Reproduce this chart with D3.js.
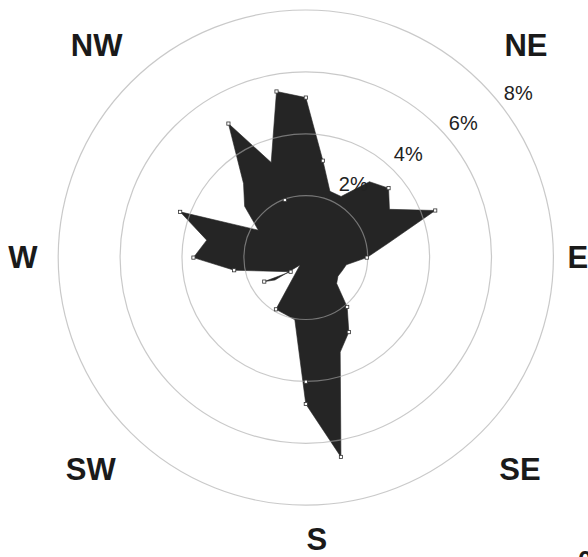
<!DOCTYPE html>
<html><head><meta charset="utf-8">
<script src="https://cdn.jsdelivr.net/npm/d3@7"></script>
<style>html,body{margin:0;padding:0;background:#fff;overflow:hidden}</style>
</head><body>
<svg id="chart" width="588" height="557"></svg>
<script>
// wind direction (degrees clockwise from north) and frequency (%)
const windDir = [0,10,20,30,40,50,60,70,80,90,100,110,120,130,140,150,160,170,180,190,200,210,218,234,240,227,260,270,280,290,300,310,320,330,340,350];
const windPct = [5.17,3.18,2.28,2.28,3.20,3.49,3.12,4.45,2.71,1.97,1.33,1.25,1.20,1.30,2.08,2.78,3.25,6.54,4.73,2.04,1.95,1.93,0.30,1.23,1.55,0.67,2.35,3.63,3.25,4.32,1.77,2.58,3.13,5.00,3.27,5.45];
const markedDir = [0,10,50,70,90,140,150,170,180,210,240,227,260,270,290,330,350];
const extraMarkDir = [340,180];
const extraMarkPct = [1.98,4.01];
const ringTicks = [2,4,6,8];
const ringLabels = ["2%","4%","6%","8%"];
const compassLabels = ["NE","E","SE","S","SW","W","NW"];
const compassAngles = [45,90,135,180,225,270,315];

// layout (styling only)
const W = 588, H = 557;
const cx = 305.8, cy = 257.6;
const labelNudge = {NE:[8,0], E:[-11,0], SE:[2,0], S:[11,-1], SW:[-3,0], W:[0,0], NW:[3,0]};

const svg = d3.select("#chart");
const r = d3.scaleLinear().domain([0, 8]).range([0, 247.6]);
const rad = d => d * Math.PI / 180;

const g = svg.append("g").attr("transform", `translate(${cx},${cy})`);

const pts = windDir.map((d, i) => ({dir: d, pct: windPct[i]}));
const line = d3.lineRadial()
  .angle(d => rad(d.dir))
  .radius(d => r(d.pct))
  .curve(d3.curveLinearClosed);

g.append("path").datum(pts)
  .attr("d", line)
  .attr("fill", "#252525")
  .attr("stroke", "#252525")
  .attr("stroke-width", 0.6)
  .attr("stroke-linejoin", "miter");

// rings on top
g.selectAll("circle.ring").data(ringTicks).join("circle")
  .attr("class", "ring")
  .attr("r", d => r(d))
  .attr("fill", "none")
  .attr("stroke", "#a8a8a8")
  .attr("stroke-opacity", 0.62)
  .attr("stroke-width", 1.2);

// markers
const polar = (dir, pct) => [r(pct) * Math.sin(rad(dir)), -r(pct) * Math.cos(rad(dir))];
const marks = pts.filter(p => markedDir.includes(p.dir))
  .concat(extraMarkDir.map((d, i) => ({dir: d, pct: extraMarkPct[i]})));
g.selectAll("rect.mk").data(marks).join("rect")
  .attr("class", "mk")
  .attr("x", d => polar(d.dir, d.pct)[0] - 1.6)
  .attr("y", d => polar(d.dir, d.pct)[1] - 1.6)
  .attr("width", 3.2).attr("height", 3.2)
  .attr("fill", "#fff")
  .attr("stroke", "#333")
  .attr("stroke-width", 0.8);

// ring labels
const labA = rad(61.3);
g.selectAll("text.rl").data(ringTicks).join("text")
  .attr("class", "rl")
  .attr("x", d => -7.5 + 1.013 * r(d) * Math.sin(labA))
  .attr("y", d => -43.8 - 1.013 * r(d) * Math.cos(labA))
  .attr("text-anchor", "middle")
  .attr("dominant-baseline", "central")
  .attr("font-family", "Liberation Sans, Arial, sans-serif")
  .attr("font-size", 20)
  .attr("fill", "#222")
  .text((d, i) => ringLabels[i]);

// compass labels
const labelR = a => 283 + 17 * Math.abs(Math.sin(2 * rad(a)));
g.selectAll("text.cl").data(compassLabels).join("text")
  .attr("class", "cl")
  .attr("x", (d, i) => labelR(compassAngles[i]) * Math.sin(rad(compassAngles[i])) + labelNudge[d][0])
  .attr("y", (d, i) => -labelR(compassAngles[i]) * Math.cos(rad(compassAngles[i])) + labelNudge[d][1])
  .attr("text-anchor", "middle")
  .attr("dominant-baseline", "central")
  .attr("font-family", "Liberation Sans, Arial, sans-serif")
  .attr("font-weight", "bold")
  .attr("font-size", 31)
  .attr("fill", "#1a1a1a")
  .text(d => d);

// clipped fragment at bottom right (also cut off in the reference)
svg.append("text")
  .attr("x", 578).attr("y", 569)
  .attr("font-family", "Liberation Sans, Arial, sans-serif")
  .attr("font-weight", "bold")
  .attr("font-size", 26)
  .attr("fill", "#1a1a1a")
  .text("0");
</script>
</body></html>
